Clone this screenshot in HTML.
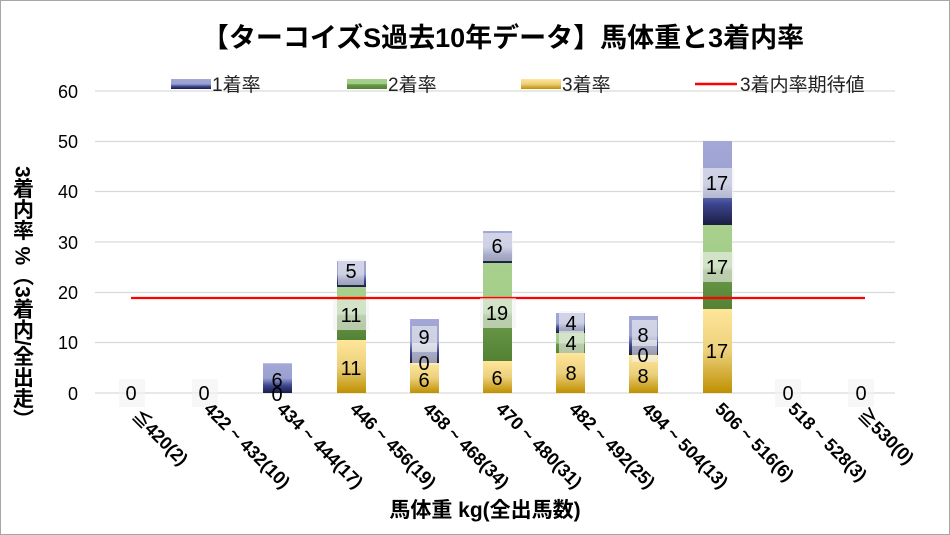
<!DOCTYPE html>
<html><head><meta charset="utf-8"><style>
body{margin:0;background:#fff}
svg{display:block;font-family:"Liberation Sans","Noto Sans CJK JP",sans-serif}
</style></head><body>
<svg width="950" height="535" viewBox="0 0 950 535">
<defs>
<linearGradient id="b" x1="0" y1="0" x2="0" y2="1"><stop offset="0" stop-color="#a3a8d6"/><stop offset="0.5" stop-color="#9aa0d0"/><stop offset="0.75" stop-color="#3c4590"/><stop offset="1" stop-color="#1a1e40"/></linearGradient>
<linearGradient id="g" x1="0" y1="0" x2="0" y2="1"><stop offset="0" stop-color="#a9d18e"/><stop offset="0.5" stop-color="#a0cc86"/><stop offset="0.55" stop-color="#6a9a48"/><stop offset="1" stop-color="#548235"/></linearGradient>
<linearGradient id="y" x1="0" y1="0" x2="0" y2="1"><stop offset="0" stop-color="#ffe699"/><stop offset="0.5" stop-color="#ecd07c"/><stop offset="1" stop-color="#bf9000"/></linearGradient>
</defs>
<rect x="0.5" y="0.5" width="949" height="534" fill="#fff" stroke="#a6a6a6"/>
<text x="503" y="47" text-anchor="middle" font-size="27" font-weight="bold" fill="#000">【ターコイズS過去10年データ】馬体重と3着内率</text>
<g stroke="#d9d9d9" stroke-width="1.3">
<line x1="95" x2="895" y1="91" y2="91"/><line x1="95" x2="895" y1="141.5" y2="141.5"/><line x1="95" x2="895" y1="191.5" y2="191.5"/><line x1="95" x2="895" y1="242" y2="242"/><line x1="95" x2="895" y1="292.5" y2="292.5"/><line x1="95" x2="895" y1="342.5" y2="342.5"/><line x1="95" x2="895" y1="393" y2="393"/>
</g>
<g font-size="18" text-anchor="end" fill="#000">
<text x="78" y="98">60</text><text x="78" y="148">50</text><text x="78" y="198">40</text><text x="78" y="249">30</text><text x="78" y="299">20</text><text x="78" y="349">10</text><text x="78" y="400">0</text>
</g>
<g font-size="19" fill="#222">
<rect x="171" y="79" width="40" height="10" fill="url(#b)"/><text x="212" y="91">1着率</text>
<rect x="347" y="79" width="40" height="10" fill="url(#g)"/><text x="388" y="91">2着率</text>
<rect x="521" y="79" width="40" height="10" fill="url(#y)"/><text x="562" y="91">3着率</text>
<line x1="695" x2="737" y1="84" y2="84" stroke="#f00" stroke-width="2.5"/><text x="740" y="91">3着内率期待値</text>
</g>
<g>
<rect x="263" y="363.3" width="29" height="29.7" fill="url(#b)"/>
<rect x="337" y="340" width="29" height="53" fill="url(#y)"/>
<rect x="337" y="287" width="29" height="53" fill="url(#g)"/>
<rect x="337" y="261" width="29" height="26" fill="url(#b)"/>
<rect x="410" y="363" width="29" height="30" fill="url(#y)"/>
<rect x="410" y="319" width="29" height="44" fill="url(#b)"/>
<rect x="483" y="361" width="29" height="32" fill="url(#y)"/>
<rect x="483" y="263" width="29" height="98" fill="url(#g)"/>
<rect x="483" y="231" width="29" height="32" fill="url(#b)"/>
<rect x="556" y="353" width="29" height="40" fill="url(#y)"/>
<rect x="556" y="333" width="29" height="20" fill="url(#g)"/>
<rect x="556" y="313" width="29" height="20" fill="url(#b)"/>
<rect x="629" y="355" width="29" height="38" fill="url(#y)"/>
<rect x="629" y="316" width="29" height="39" fill="url(#b)"/>
<rect x="703" y="309" width="29" height="84" fill="url(#y)"/>
<rect x="703" y="225" width="29" height="84" fill="url(#g)"/>
<rect x="703" y="141" width="29" height="84" fill="url(#b)"/>
</g>
<line x1="131" x2="865" y1="298" y2="298" stroke="#f00" stroke-width="2.2"/>
<g font-size="20" text-anchor="middle" fill="#000">
<g fill="#f2f2f2" fill-opacity="0.6">
<rect x="119" y="379" width="26" height="28"/><rect x="192" y="379" width="26" height="28"/>
<rect x="338" y="259" width="26" height="26"/><rect x="333" y="300" width="36" height="30"/>
<rect x="412" y="326" width="25" height="26"/><rect x="412" y="343" width="25" height="22"/>
<rect x="483" y="233" width="30" height="28"/><rect x="480" y="298" width="36" height="30"/>
<rect x="559" y="311" width="25" height="22"/><rect x="559" y="331" width="25" height="22"/>
<rect x="632" y="320" width="25" height="26"/><rect x="632" y="340" width="25" height="22"/>
<rect x="700" y="168" width="34" height="30"/><rect x="700" y="252" width="34" height="30"/>
<rect x="775" y="379" width="26" height="28"/><rect x="848" y="379" width="26" height="28"/>
</g>
<text x="131" y="400">0</text><text x="204" y="400">0</text>
<text x="277" y="387">6</text><text x="277" y="401">0</text>
<text x="351" y="278">5</text><text x="351" y="322">11</text><text x="351" y="375">11</text>
<text x="424" y="344">9</text><text x="424" y="370">0</text><text x="424" y="387">6</text>
<text x="497" y="253">6</text><text x="497" y="320">19</text><text x="497" y="385">6</text>
<text x="571" y="330">4</text><text x="571" y="350">4</text><text x="571" y="380">8</text>
<text x="643" y="342">8</text><text x="643" y="362">0</text><text x="643" y="383">8</text>
<text x="717" y="190">17</text><text x="717" y="274">17</text><text x="717" y="358">17</text>
<text x="788" y="400">0</text><text x="861" y="400">0</text>
</g>
<g font-size="18" font-weight="bold" fill="#000">
<text transform="translate(131,417) rotate(45)">≦420(2)</text>
<text transform="translate(203,410) rotate(45)">422 ~ 432(10)</text>
<text transform="translate(276,410) rotate(45)">434 ~ 444(17)</text>
<text transform="translate(349,410) rotate(45)">446 ~ 456(19)</text>
<text transform="translate(422,410) rotate(45)">458 ~ 468(34)</text>
<text transform="translate(495,410) rotate(45)">470 ~ 480(31)</text>
<text transform="translate(568,410) rotate(45)">482 ~ 492(25)</text>
<text transform="translate(641,410) rotate(45)">494 ~ 504(13)</text>
<text transform="translate(714,410) rotate(45)">506 ~ 516(6)</text>
<text transform="translate(787,410) rotate(45)">518 ~ 528(3)</text>
<text transform="translate(857,416) rotate(45)">≧530(0)</text>
</g>
<text x="485" y="517" text-anchor="middle" font-size="21" font-weight="bold">馬体重 kg(全出馬数)</text>
<text x="22" y="166" font-size="21" font-weight="bold" style="writing-mode:vertical-rl;text-orientation:mixed">3着内率 %（3着内/全出走）</text>
</svg>
</body></html>
